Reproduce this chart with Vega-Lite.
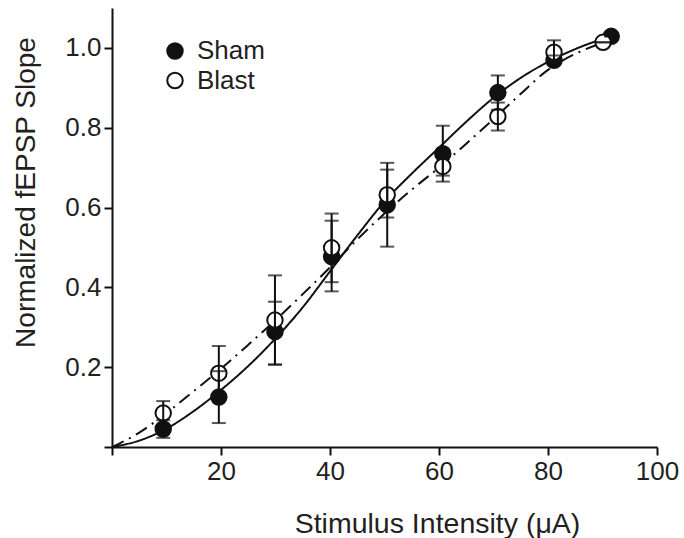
{
  "$schema": "https://vega.github.io/schema/vega-lite/v6.json",
  "width": 545,
  "height": 439,
  "autosize": {"type": "none"},
  "padding": {"left": 112, "top": 8, "right": 27, "bottom": 91},
  "background": "white",
  "config": {
    "view": {"stroke": null},
    "font": "Liberation Sans",
    "axis": {
      "grid": false,
      "domainColor": "#111111",
      "domainWidth": 2,
      "tickColor": "#111111",
      "tickWidth": 2,
      "tickSize": 8,
      "labelColor": "#231f20",
      "titleColor": "#231f20",
      "labelFont": "Liberation Sans",
      "titleFont": "Liberation Sans",
      "labelFontSize": 26,
      "titleFontSize": 28.5,
      "titleFontWeight": "normal",
      "labelFlush": false
    },
    "legend": {
      "padding": 0,
      "symbolType": "circle",
      "symbolSize": 240,
      "symbolStrokeColor": "#111111",
      "symbolStrokeWidth": 2,
      "labelFontSize": 26,
      "labelFont": "Liberation Sans",
      "labelColor": "#231f20",
      "labelOffset": 9,
      "rowPadding": 3.5
    }
  },
  "datasets": {
    "curves": [
      {"series": "Sham", "x": 0, "y": 0},
      {"series": "Sham", "x": 5, "y": 0.016},
      {"series": "Sham", "x": 10, "y": 0.046},
      {"series": "Sham", "x": 15, "y": 0.09},
      {"series": "Sham", "x": 20, "y": 0.143},
      {"series": "Sham", "x": 25, "y": 0.203},
      {"series": "Sham", "x": 30, "y": 0.272},
      {"series": "Sham", "x": 35, "y": 0.35},
      {"series": "Sham", "x": 40, "y": 0.44},
      {"series": "Sham", "x": 45, "y": 0.53},
      {"series": "Sham", "x": 50, "y": 0.615},
      {"series": "Sham", "x": 55, "y": 0.685},
      {"series": "Sham", "x": 60, "y": 0.75},
      {"series": "Sham", "x": 65, "y": 0.815},
      {"series": "Sham", "x": 70, "y": 0.875},
      {"series": "Sham", "x": 75, "y": 0.925},
      {"series": "Sham", "x": 80, "y": 0.965},
      {"series": "Sham", "x": 85, "y": 0.997},
      {"series": "Sham", "x": 91.4, "y": 1.029},
      {"series": "Blast", "x": 0, "y": 0},
      {"series": "Blast", "x": 5, "y": 0.036},
      {"series": "Blast", "x": 10, "y": 0.085},
      {"series": "Blast", "x": 15, "y": 0.14},
      {"series": "Blast", "x": 20, "y": 0.196},
      {"series": "Blast", "x": 25, "y": 0.256},
      {"series": "Blast", "x": 30, "y": 0.318},
      {"series": "Blast", "x": 35, "y": 0.383},
      {"series": "Blast", "x": 40, "y": 0.45},
      {"series": "Blast", "x": 45, "y": 0.52},
      {"series": "Blast", "x": 50, "y": 0.585},
      {"series": "Blast", "x": 55, "y": 0.645},
      {"series": "Blast", "x": 60, "y": 0.70},
      {"series": "Blast", "x": 65, "y": 0.76},
      {"series": "Blast", "x": 70, "y": 0.822},
      {"series": "Blast", "x": 75, "y": 0.885},
      {"series": "Blast", "x": 80, "y": 0.945},
      {"series": "Blast", "x": 85, "y": 0.985},
      {"series": "Blast", "x": 90.1, "y": 1.013}
    ],
    "points": [
      {"group": "Sham", "x": 9.4, "y": 0.045, "lo": 0.023, "hi": 0.067},
      {"group": "Sham", "x": 19.6, "y": 0.125, "lo": 0.06, "hi": 0.19},
      {"group": "Sham", "x": 29.9, "y": 0.289, "lo": 0.207, "hi": 0.364},
      {"group": "Sham", "x": 40.3, "y": 0.477, "lo": 0.39, "hi": 0.567},
      {"group": "Sham", "x": 50.5, "y": 0.607, "lo": 0.502, "hi": 0.712},
      {"group": "Sham", "x": 60.7, "y": 0.735, "lo": 0.665, "hi": 0.805},
      {"group": "Sham", "x": 70.8, "y": 0.888, "lo": 0.845, "hi": 0.931},
      {"group": "Sham", "x": 81.1, "y": 0.969, "lo": 0.957, "hi": 0.981},
      {"group": "Sham", "x": 91.6, "y": 1.029, "lo": 1.029, "hi": 1.029},
      {"group": "Blast", "x": 9.4, "y": 0.085, "lo": 0.055, "hi": 0.115},
      {"group": "Blast", "x": 19.6, "y": 0.185, "lo": 0.117, "hi": 0.253},
      {"group": "Blast", "x": 29.9, "y": 0.318, "lo": 0.206, "hi": 0.43},
      {"group": "Blast", "x": 40.3, "y": 0.499, "lo": 0.413, "hi": 0.585},
      {"group": "Blast", "x": 50.5, "y": 0.632, "lo": 0.575, "hi": 0.695},
      {"group": "Blast", "x": 60.7, "y": 0.703, "lo": 0.68, "hi": 0.726},
      {"group": "Blast", "x": 70.8, "y": 0.828, "lo": 0.793, "hi": 0.863},
      {"group": "Blast", "x": 81.1, "y": 0.989, "lo": 0.959, "hi": 1.019},
      {"group": "Blast", "x": 90.1, "y": 1.014, "lo": 1.014, "hi": 1.014}
    ]
  },
  "layer": [
    {
      "data": {"name": "curves"},
      "mark": {"type": "line", "color": "#111111", "strokeWidth": 2, "interpolate": "monotone"},
      "encoding": {
        "x": {
          "field": "x", "type": "quantitative",
          "scale": {"domain": [0, 100], "nice": false, "zero": false},
          "axis": {
            "values": [0, 20, 40, 60, 80, 100],
            "labelExpr": "datum.value == 0 ? '' : datum.label",
            "labelPadding": 3,
            "title": "Stimulus Intensity (μA)",
            "titleX": 325,
            "titleY": 76,
            "titleAlign": "center",
            "titleBaseline": "middle"
          }
        },
        "y": {
          "field": "y", "type": "quantitative",
          "scale": {"domain": [0, 1.1], "nice": false, "zero": false},
          "axis": {
            "values": [0, 0.2, 0.4, 0.6, 0.8, 1.0],
            "format": ".1f",
            "labelExpr": "datum.value == 0 ? '' : datum.label",
            "labelPadding": 3,
            "title": "Normalized fEPSP Slope",
            "titleFontSize": 28,
            "titleX": -86,
            "titleY": 184,
            "titleAngle": -90,
            "titleAlign": "center",
            "titleBaseline": "middle"
          }
        },
        "strokeDash": {
          "field": "series", "type": "nominal",
          "scale": {"domain": ["Blast", "Sham"], "range": [[13, 6, 2, 6], [1, 0]]},
          "legend": null
        },
        "detail": {"field": "series"}
      }
    },
    {
      "data": {"name": "points"},
      "mark": {"type": "point", "shape": "circle", "filled": true, "size": 240, "stroke": "#111111", "strokeWidth": 2, "opacity": 1},
      "encoding": {
        "x": {"field": "x", "type": "quantitative"},
        "y": {"field": "y", "type": "quantitative"},
        "fill": {
          "field": "group", "type": "nominal",
          "scale": {"domain": ["Sham", "Blast"], "range": ["#111111", "#ffffff"]},
          "legend": {"title": null, "orient": "none", "legendX": 50, "legendY": 30}
        }
      }
    },
    {
      "data": {"name": "points"},
      "mark": {"type": "rule", "color": "#111111", "strokeWidth": 2},
      "encoding": {
        "x": {"field": "x", "type": "quantitative"},
        "y": {"field": "lo", "type": "quantitative"},
        "y2": {"field": "hi"}
      }
    },
    {
      "data": {"name": "points"},
      "mark": {"type": "tick", "orient": "horizontal", "color": "#111111", "size": 14, "thickness": 2},
      "encoding": {
        "x": {"field": "x", "type": "quantitative"},
        "y": {"field": "lo", "type": "quantitative"}
      }
    },
    {
      "data": {"name": "points"},
      "mark": {"type": "tick", "orient": "horizontal", "color": "#111111", "size": 14, "thickness": 2},
      "encoding": {
        "x": {"field": "x", "type": "quantitative"},
        "y": {"field": "hi", "type": "quantitative"}
      }
    }
  ]
}
